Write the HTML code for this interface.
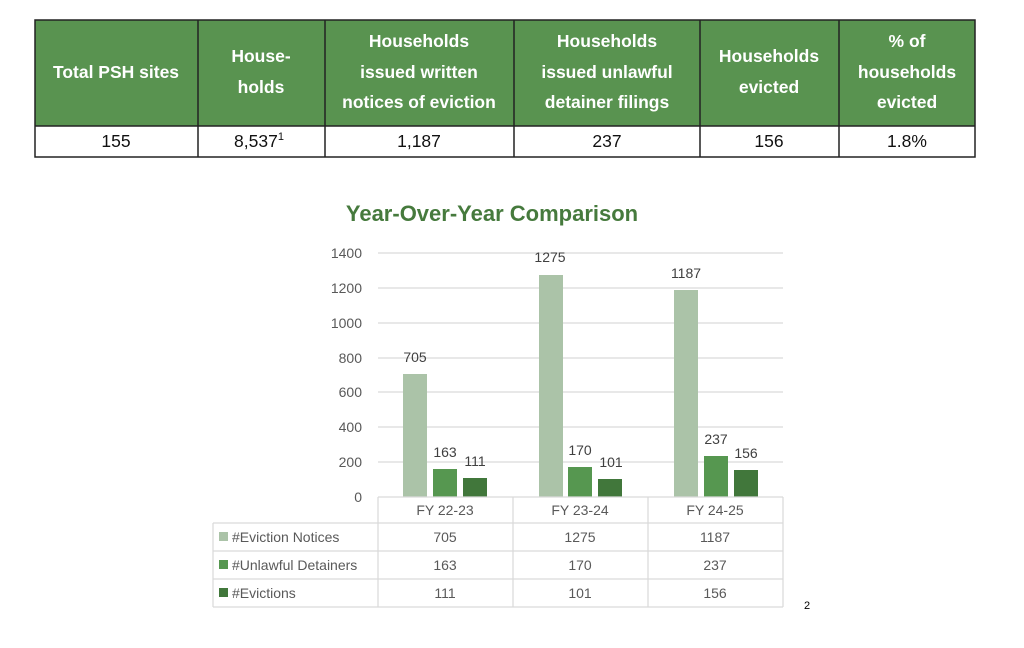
<!DOCTYPE html>
<html><head><meta charset="utf-8"><style>
body{margin:0;background:#fff;width:1024px;height:648px;overflow:hidden}
svg{display:block}
</style></head><body>
<svg width="1024" height="648" xmlns="http://www.w3.org/2000/svg" font-family="Liberation Sans, sans-serif">
<rect x="35" y="20" width="940" height="106" fill="#599350"/>
<rect x="35" y="20" width="940" height="137" fill="none" stroke="#222" stroke-width="1.5"/>
<line x1="35" y1="126" x2="975" y2="126" stroke="#222" stroke-width="1.5"/>
<g stroke="#222" stroke-width="1.5">
<line x1="198" y1="20" x2="198" y2="157"/><line x1="325" y1="20" x2="325" y2="157"/>
<line x1="514" y1="20" x2="514" y2="157"/><line x1="700" y1="20" x2="700" y2="157"/>
<line x1="839" y1="20" x2="839" y2="157"/>
</g>
<g fill="#fff" font-weight="bold" font-size="17.5" text-anchor="middle">
<text x="116" y="78">Total PSH sites</text>
<text x="261" y="62">House-</text><text x="261" y="93">holds</text>
<text x="419" y="47">Households</text><text x="419" y="78">issued written</text><text x="419" y="108">notices of eviction</text>
<text x="607" y="47">Households</text><text x="607" y="78">issued unlawful</text><text x="607" y="108">detainer filings</text>
<text x="769" y="62">Households</text><text x="769" y="93">evicted</text>
<text x="907" y="47">% of</text><text x="907" y="78">households</text><text x="907" y="108">evicted</text>
</g>
<g fill="#111" font-size="17.5" text-anchor="middle">
<text x="116" y="147">155</text>
<text x="259" y="147">8,537<tspan font-size="11" dy="-7">1</tspan></text>
<text x="419" y="147">1,187</text>
<text x="607" y="147">237</text>
<text x="769" y="147">156</text>
<text x="907" y="147">1.8%</text>
</g>
<text x="492" y="221" text-anchor="middle" font-size="22" font-weight="bold" fill="#467a3d">Year-Over-Year Comparison</text>
<g stroke="#d9d9d9" stroke-width="1.2">
<line x1="378" y1="253" x2="783" y2="253"/><line x1="378" y1="288" x2="783" y2="288"/>
<line x1="378" y1="323" x2="783" y2="323"/><line x1="378" y1="358" x2="783" y2="358"/>
<line x1="378" y1="392" x2="783" y2="392"/><line x1="378" y1="427" x2="783" y2="427"/>
<line x1="378" y1="462" x2="783" y2="462"/>
</g>
<g fill="#595959" font-size="14" text-anchor="end">
<text x="362" y="258">1400</text><text x="362" y="293">1200</text><text x="362" y="328">1000</text>
<text x="362" y="363">800</text><text x="362" y="397">600</text><text x="362" y="432">400</text>
<text x="362" y="467">200</text><text x="362" y="502">0</text>
</g>
<g>
<rect x="403" y="374" width="24" height="123" fill="#abc3a8"/>
<rect x="433" y="469" width="24" height="28" fill="#569750"/>
<rect x="463" y="478" width="24" height="19" fill="#41773b"/>
<rect x="539" y="275" width="24" height="222" fill="#abc3a8"/>
<rect x="568" y="467" width="24" height="30" fill="#569750"/>
<rect x="598" y="479" width="24" height="18" fill="#41773b"/>
<rect x="674" y="290" width="24" height="207" fill="#abc3a8"/>
<rect x="704" y="456" width="24" height="41" fill="#569750"/>
<rect x="734" y="470" width="24" height="27" fill="#41773b"/>
</g>
<g fill="#404040" font-size="14" text-anchor="middle">
<text x="415" y="362">705</text><text x="445" y="457">163</text><text x="475" y="466">111</text>
<text x="550" y="262">1275</text><text x="580" y="455">170</text><text x="611" y="467">101</text>
<text x="686" y="278">1187</text><text x="716" y="444">237</text><text x="746" y="458">156</text>
</g>
<g stroke="#d9d9d9" stroke-width="1.2" fill="none">
<line x1="378" y1="497" x2="783" y2="497"/>
<line x1="213" y1="523" x2="783" y2="523"/>
<line x1="213" y1="551" x2="783" y2="551"/>
<line x1="213" y1="579" x2="783" y2="579"/>
<line x1="213" y1="607" x2="783" y2="607"/>
<line x1="213" y1="523" x2="213" y2="607"/>
<line x1="378" y1="497" x2="378" y2="607"/>
<line x1="513" y1="497" x2="513" y2="607"/>
<line x1="648" y1="497" x2="648" y2="607"/>
<line x1="783" y1="497" x2="783" y2="607"/>
</g>
<rect x="219" y="532" width="9" height="9" fill="#abc3a8"/>
<rect x="219" y="560" width="9" height="9" fill="#569750"/>
<rect x="219" y="588" width="9" height="9" fill="#41773b"/>
<g fill="#595959" font-size="14">
<text x="232" y="542">#Eviction Notices</text>
<text x="232" y="570">#Unlawful Detainers</text>
<text x="232" y="598">#Evictions</text>
</g>
<g fill="#595959" font-size="14" text-anchor="middle">
<text x="445" y="515">FY 22-23</text><text x="580" y="515">FY 23-24</text><text x="715" y="515">FY 24-25</text>
<text x="445" y="542">705</text><text x="580" y="542">1275</text><text x="715" y="542">1187</text>
<text x="445" y="570">163</text><text x="580" y="570">170</text><text x="715" y="570">237</text>
<text x="445" y="598">111</text><text x="580" y="598">101</text><text x="715" y="598">156</text>
</g>
<text x="807" y="609" font-size="11" fill="#000" text-anchor="middle">2</text>
</svg>
</body></html>
